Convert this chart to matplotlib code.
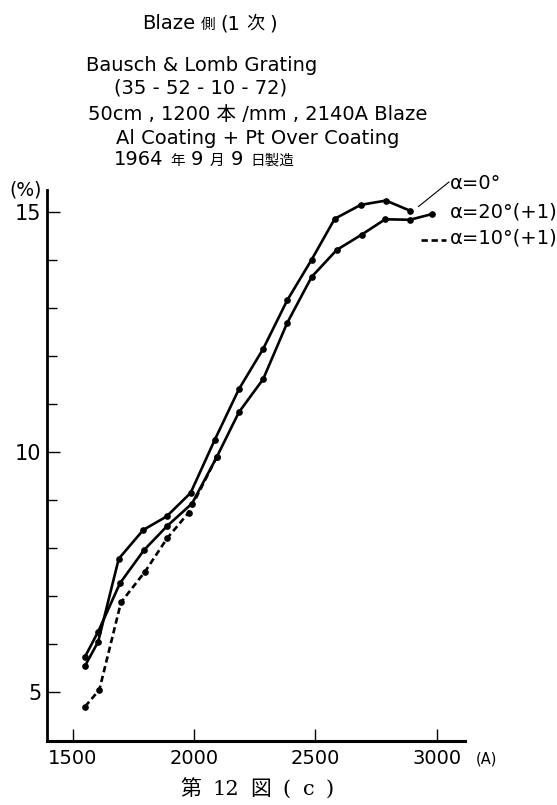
import matplotlib
matplotlib.use("Agg")
import matplotlib.pyplot as plt
from matplotlib.lines import Line2D

# ---- data ----
wl_a0 = [1551, 1605, 1690, 1791, 1887, 1986, 2086, 2185, 2285, 2384, 2485, 2580, 2687, 2791, 2890]
eff_a0 = [5.55, 6.05, 7.78, 8.38, 8.66, 9.15, 10.26, 11.31, 12.15, 13.16, 14.01, 14.86, 15.15, 15.24, 15.03]

wl_a20 = [1551, 1605, 1695, 1794, 1889, 1992, 2093, 2185, 2285, 2384, 2485, 2588, 2691, 2788, 2890, 2982]
eff_a20 = [5.74, 6.26, 7.27, 7.96, 8.46, 8.93, 9.89, 10.83, 11.52, 12.69, 13.65, 14.21, 14.53, 14.85, 14.84, 14.96]

wl_a10 = [1551, 1610, 1699, 1798, 1890, 1978, 2093]
eff_a10 = [4.70, 5.05, 6.87, 7.51, 8.21, 8.74, 9.89]

xticks = [1500, 2000, 2500, 3000]
xticklabels = ["1500", "2000", "2500", "3000"]
yticks = [5, 10, 15]
yticklabels = ["5", "10", "15"]
yminor = [6, 7, 8, 9, 11, 12, 13, 14]

header_lines = [
    "Bausch & Lomb Grating",
    "(35 - 52 - 10 - 72)",
    "50cm , 1200 本 /mm , 2140A Blaze",
    "Al Coating + Pt Over Coating",
]
title_pieces = [("Blaze", 14), ("側", 10.5), ("(1", 14), ("次", 13), (")", 14)]
date_pieces = [("1964", 14), ("年", 10.5), ("9", 14), ("月", 10.5), ("9", 14), ("日製造", 10.5)]
legend_labels = ["α=0°", "α=20°(+1)", "α=10°(+1)"]
caption_pieces = ["第", "12", "図", "(", "c", ")"]

FONT = ["DejaVu Sans", "Noto Sans CJK JP"]
SERIF = ["DejaVu Serif", "Noto Sans CJK JP"]
W, H = 557, 805

fig = plt.figure(figsize=(W / 100, H / 100), dpi=100)
fig.patch.set_facecolor("white")
renderer = fig.canvas.get_renderer()


def fx(px):
    return px / W


def fy(py):
    return 1 - py / H


def place_seq(x0, ybase, pieces, gap, family):
    x = x0
    for s, fs in pieces:
        t = fig.text(fx(x), fy(ybase), s, family=family, fontsize=fs,
                     ha="left", va="baseline")
        bb = t.get_window_extent(renderer=renderer)
        x += bb.width + gap


ax = fig.add_axes([fx(46.7), fy(740.7), (465 - 46.7) / W, (740.7 - 190) / H])
ax.set_xlim(1393, 3117)
ax.set_ylim(3.99, 15.46)

for sp in ["top", "right"]:
    ax.spines[sp].set_visible(False)
ax.spines["left"].set_linewidth(2.0)
ax.spines["bottom"].set_linewidth(2.2)

ax.plot(wl_a0, eff_a0, color="black", lw=1.9, marker="o", ms=3.8, solid_joinstyle="round")
ax.plot(wl_a20, eff_a20, color="black", lw=1.9, marker="o", ms=3.8, solid_joinstyle="round")
ax.plot(wl_a10, eff_a10, color="black", lw=1.9, marker="o", ms=3.8, ls=(0, (2.4, 1.4)))

ax.set_xticks(xticks)
ax.set_xticklabels(xticklabels)
ax.set_yticks(yticks)
ax.set_yticklabels(yticklabels)
ax.set_yticks(yminor, minor=True)
ax.tick_params(axis="x", direction="in", length=9, width=1.0, pad=6)
ax.tick_params(axis="y", which="major", direction="in", length=9.5, width=1.0, pad=4)
ax.tick_params(axis="y", which="minor", direction="in", length=7.5, width=1.0)
for lab in ax.get_xticklabels():
    lab.set_family(FONT)
    lab.set_fontsize(14)
for lab in ax.get_yticklabels():
    lab.set_family(FONT)
    lab.set_fontsize(15)

# axis unit labels
fig.text(fx(26), fy(190), "(%)", family=FONT, fontsize=13.5, ha="center", va="center")
fig.text(fx(476), fy(759), "(A)", family=FONT, fontsize=10.5, ha="left", va="center")

# header texts
place_seq(142, 29, title_pieces, 5.5, FONT)
hx = [86, 114, 88, 116]
hy = [71, 94, 120, 144]
for t, x, y in zip(header_lines, hx, hy):
    fig.text(fx(x), fy(y), t, family=FONT, fontsize=14, ha="left", va="baseline")
place_seq(114, 165, date_pieces, 6.5, FONT)

# legend
fig.add_artist(Line2D([fx(418.5), fx(449)], [fy(206.5), fy(182)], color="black", lw=0.8))
fig.add_artist(Line2D([fx(421), fx(446)], [fy(240), fy(240)], color="black", lw=1.9,
                      ls=(0, (2.4, 1.4))))
for t, y in zip(legend_labels, [183.5, 211.5, 237.5]):
    fig.text(fx(450), fy(y), t, family=FONT, fontsize=14, ha="left", va="center")

# caption
cap = [(s, 15) for s in caption_pieces]
place_seq(180, 795, cap, 11.5, SERIF)

fig.savefig("out.png", dpi=100, facecolor="white")
